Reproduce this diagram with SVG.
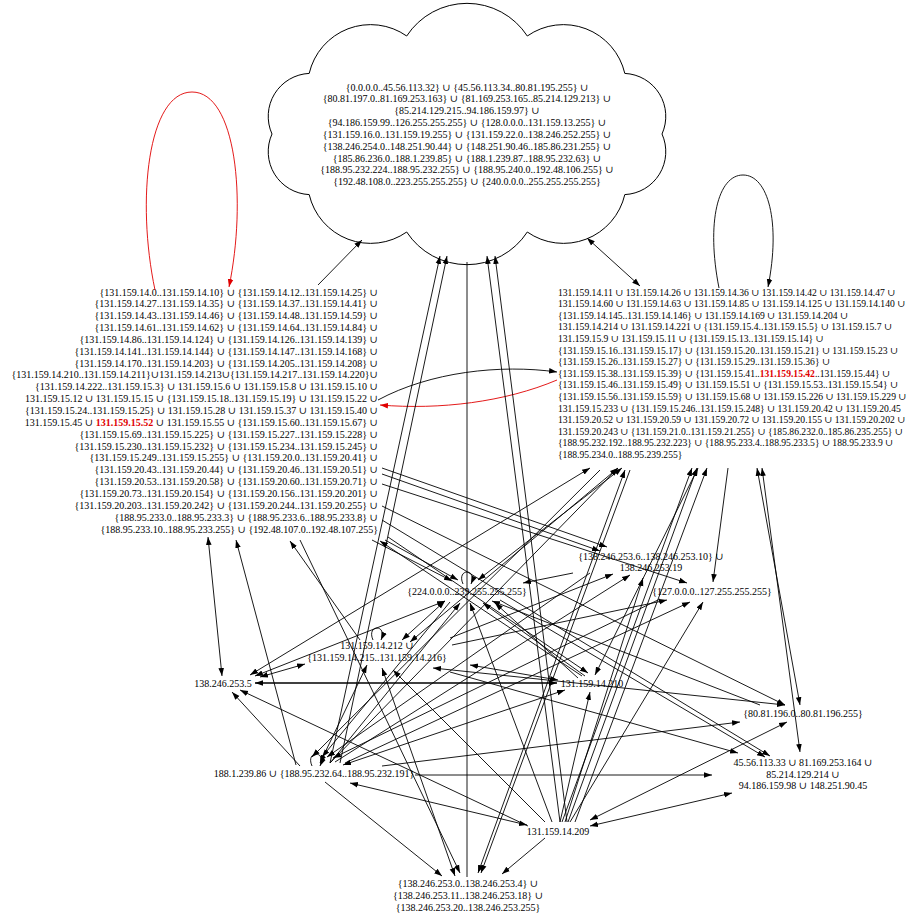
<svg xmlns="http://www.w3.org/2000/svg" width="913" height="918" viewBox="0 0 913 918">
<style>
.t{font-family:"Liberation Serif","DejaVu Serif",serif;font-size:10px;fill:#000}
.s{font-size:9.6px}
.c{text-anchor:middle}
.e{text-anchor:end}
.red{fill:#e00000;font-weight:bold}
.ed path{fill:none;stroke:#000;stroke-width:0.9}
.ed .E{marker-end:url(#a)}
.ed .B{marker-start:url(#a);marker-end:url(#a)}
.ed .R{stroke:#e00000;marker-end:url(#r)}
</style>
<defs>
<marker id="a" viewBox="0 0 10 10" refX="10" refY="5" markerWidth="8" markerHeight="8" markerUnits="userSpaceOnUse" orient="auto-start-reverse"><path d="M0,1.5 L10,5 L0,8.5 z" fill="#000"/></marker>
<marker id="r" viewBox="0 0 10 10" refX="10" refY="5" markerWidth="8" markerHeight="8" markerUnits="userSpaceOnUse" orient="auto-start-reverse"><path d="M0,1.5 L10,5 L0,8.5 z" fill="#e00000"/></marker>
</defs>
<rect width="913" height="918" fill="#fff"/>
<g id="n_cloud">
<path d="M406.7,36 A72,72 0 0 1 527.3,36 A63,63 0 0 1 624.8,73.4 A43,43 0 0 1 662,134 A43,43 0 0 1 624.8,194.6 A63,63 0 0 1 527.3,232 A72,72 0 0 1 406.7,232 A63,63 0 0 1 309.2,194.6 A43,43 0 0 1 272,134 A43,43 0 0 1 309.2,73.4 A63,63 0 0 1 406.7,36 Z" fill="#fff" stroke="#000" stroke-width="1"/>
<text class="t c" x="467" y="90.5">{0.0.0.0..45.56.113.32} ∪ {45.56.113.34..80.81.195.255} ∪</text>
<text class="t c" x="467" y="102.35">{80.81.197.0..81.169.253.163} ∪ {81.169.253.165..85.214.129.213} ∪</text>
<text class="t c" x="467" y="114.2">{85.214.129.215..94.186.159.97}  ∪</text>
<text class="t c" x="467" y="126.05">{94.186.159.99..126.255.255.255} ∪ {128.0.0.0..131.159.13.255} ∪</text>
<text class="t c" x="467" y="137.9">{131.159.16.0..131.159.19.255} ∪ {131.159.22.0..138.246.252.255} ∪</text>
<text class="t c" x="467" y="149.75">{138.246.254.0..148.251.90.44} ∪ {148.251.90.46..185.86.231.255} ∪</text>
<text class="t c" x="467" y="161.6">{185.86.236.0..188.1.239.85} ∪ {188.1.239.87..188.95.232.63} ∪</text>
<text class="t c" x="467" y="173.45">{188.95.232.224..188.95.232.255} ∪ {188.95.240.0..192.48.106.255} ∪</text>
<text class="t c" x="467" y="185.3">{192.48.108.0..223.255.255.255} ∪ {240.0.0.0..255.255.255.255}</text>
</g>
<g id="n_left">
<text class="t e" x="378" y="295.5">{131.159.14.0..131.159.14.10} ∪ {131.159.14.12..131.159.14.25} ∪</text>
<text class="t e" x="378" y="307.35">{131.159.14.27..131.159.14.35} ∪ {131.159.14.37..131.159.14.41} ∪</text>
<text class="t e" x="378" y="319.2">{131.159.14.43..131.159.14.46} ∪ {131.159.14.48..131.159.14.59} ∪</text>
<text class="t e" x="378" y="331.05">{131.159.14.61..131.159.14.62} ∪ {131.159.14.64..131.159.14.84} ∪</text>
<text class="t e" x="378" y="342.9">{131.159.14.86..131.159.14.124} ∪ {131.159.14.126..131.159.14.139} ∪</text>
<text class="t e" x="378" y="354.75">{131.159.14.141..131.159.14.144} ∪ {131.159.14.147..131.159.14.168} ∪</text>
<text class="t e" x="378" y="366.6">{131.159.14.170..131.159.14.203} ∪ {131.159.14.205..131.159.14.208} ∪</text>
<text class="t e" x="378" y="378.45">{131.159.14.210..131.159.14.211}∪131.159.14.213∪{131.159.14.217..131.159.14.220}∪</text>
<text class="t e" x="378" y="390.3">{131.159.14.222..131.159.15.3} ∪ 131.159.15.6 ∪ 131.159.15.8 ∪ 131.159.15.10 ∪</text>
<text class="t e" x="378" y="402.15">131.159.15.12 ∪ 131.159.15.15 ∪ {131.159.15.18..131.159.15.19} ∪ 131.159.15.22 ∪</text>
<text class="t e" x="378" y="414">{131.159.15.24..131.159.15.25} ∪ 131.159.15.28 ∪ 131.159.15.37 ∪ 131.159.15.40 ∪</text>
<text class="t e" x="378" y="425.85">131.159.15.45 ∪ <tspan class="red">131.159.15.52</tspan> ∪ 131.159.15.55 ∪ {131.159.15.60..131.159.15.67} ∪</text>
<text class="t e" x="378" y="437.7">{131.159.15.69..131.159.15.225} ∪ {131.159.15.227..131.159.15.228} ∪</text>
<text class="t e" x="378" y="449.55">{131.159.15.230..131.159.15.232} ∪ {131.159.15.234..131.159.15.245} ∪</text>
<text class="t e" x="378" y="461.4">{131.159.15.249..131.159.15.255} ∪ {131.159.20.0..131.159.20.41} ∪</text>
<text class="t e" x="378" y="473.25">{131.159.20.43..131.159.20.44} ∪ {131.159.20.46..131.159.20.51} ∪</text>
<text class="t e" x="378" y="485.1">{131.159.20.53..131.159.20.58} ∪ {131.159.20.60..131.159.20.71} ∪</text>
<text class="t e" x="378" y="496.95">{131.159.20.73..131.159.20.154} ∪ {131.159.20.156..131.159.20.201} ∪</text>
<text class="t e" x="378" y="508.8">{131.159.20.203..131.159.20.242} ∪ {131.159.20.244..131.159.20.255} ∪</text>
<text class="t e" x="378" y="520.65">{188.95.233.0..188.95.233.3} ∪ {188.95.233.6..188.95.233.8} ∪</text>
<text class="t e" x="378" y="532.5">{188.95.233.10..188.95.233.255} ∪ {192.48.107.0..192.48.107.255}</text>
</g>
<g id="n_right">
<text class="t s" x="558" y="295.5">131.159.14.11 ∪ 131.159.14.26 ∪ 131.159.14.36 ∪ 131.159.14.42 ∪ 131.159.14.47 ∪</text>
<text class="t s" x="558" y="307.1">131.159.14.60 ∪ 131.159.14.63 ∪ 131.159.14.85 ∪ 131.159.14.125 ∪ 131.159.14.140 ∪</text>
<text class="t s" x="558" y="318.7">{131.159.14.145..131.159.14.146} ∪ 131.159.14.169 ∪ 131.159.14.204 ∪</text>
<text class="t s" x="558" y="330.3">131.159.14.214 ∪ 131.159.14.221 ∪ {131.159.15.4..131.159.15.5} ∪ 131.159.15.7 ∪</text>
<text class="t s" x="558" y="341.9">131.159.15.9 ∪ 131.159.15.11 ∪ {131.159.15.13..131.159.15.14} ∪</text>
<text class="t s" x="558" y="353.5">{131.159.15.16..131.159.15.17} ∪ {131.159.15.20..131.159.15.21} ∪ 131.159.15.23 ∪</text>
<text class="t s" x="558" y="365.1">{131.159.15.26..131.159.15.27} ∪ {131.159.15.29..131.159.15.36} ∪</text>
<text class="t s" x="558" y="376.7">{131.159.15.38..131.159.15.39} ∪ {131.159.15.41..<tspan class="red">131.159.15.42</tspan>..131.159.15.44} ∪</text>
<text class="t s" x="558" y="388.3">{131.159.15.46..131.159.15.49} ∪ 131.159.15.51 ∪ {131.159.15.53..131.159.15.54} ∪</text>
<text class="t s" x="558" y="399.9">{131.159.15.56..131.159.15.59} ∪ 131.159.15.68 ∪ 131.159.15.226 ∪ 131.159.15.229 ∪</text>
<text class="t s" x="558" y="411.5">131.159.15.233 ∪ {131.159.15.246..131.159.15.248} ∪ 131.159.20.42 ∪ 131.159.20.45</text>
<text class="t s" x="558" y="423.1">131.159.20.52 ∪ 131.159.20.59 ∪ 131.159.20.72 ∪ 131.159.20.155 ∪ 131.159.20.202 ∪</text>
<text class="t s" x="558" y="434.7">131.159.20.243 ∪ {131.159.21.0..131.159.21.255} ∪ {185.86.232.0..185.86.235.255} ∪</text>
<text class="t s" x="558" y="446.3">{188.95.232.192..188.95.232.223} ∪ {188.95.233.4..188.95.233.5} ∪ 188.95.233.9 ∪</text>
<text class="t s" x="558" y="457.9">{188.95.234.0..188.95.239.255}</text>
</g>
<g id="n224"><text class="t c" x="467" y="594.5">{224.0.0.0..239.255.255.255}</text></g>
<g id="n138_6"><text class="t c" x="651" y="559.5">{138.246.253.6..138.246.253.10} ∪</text><text class="t c" x="651" y="571">138.246.253.19</text></g>
<g id="n127"><text class="t c" x="712" y="594.5">{127.0.0.0..127.255.255.255}</text></g>
<g id="n212"><text class="t c" x="377" y="648.5">131.159.14.212 ∪</text><text class="t c" x="377" y="660.5">{131.159.14.215..131.159.14.216}</text></g>
<g id="n5"><text class="t c" x="223" y="686.5">138.246.253.5</text></g>
<g id="n210"><text class="t c" x="592" y="686.5">131.159.14.210</text></g>
<g id="n80"><text class="t c" x="803" y="716.5">{80.81.196.0..80.81.196.255}</text></g>
<g id="n188"><text class="t c" x="314" y="777">188.1.239.86 ∪ {188.95.232.64..188.95.232.191}</text></g>
<g id="n45"><text class="t c" x="803" y="766">45.56.113.33 ∪ 81.169.253.164 ∪</text><text class="t c" x="803" y="777.5">85.214.129.214  ∪</text><text class="t c" x="803" y="789">94.186.159.98 ∪ 148.251.90.45</text></g>
<g id="n209"><text class="t c" x="558" y="834.5">131.159.14.209</text></g>
<g id="n138_0"><text class="t c" x="468" y="887">{138.246.253.0..138.246.253.4} ∪</text><text class="t c" x="468" y="899">{138.246.253.11..138.246.253.18} ∪</text><text class="t c" x="468" y="911">{138.246.253.20..138.246.253.255}</text></g>
<g id="edges" class="ed">
<path class="E" d="M318,285 L362,240"/>
<path class="B" d="M640,286 L587,238"/>
<path class="E" d="M378,400 C430,372 500,364 557,372"/>
<path class="R" d="M557,380 C505,402 440,410 380,405"/>
<path class="R" d="M155,290 C136,200 148,92 192,92 C236,92 247,200 229,287"/>
<path class="E" d="M719,288 C706,222 718,175 743,175 C768,175 781,222 768,287"/>
<path class="E" d="M463,584 C456,568 478,568 471,584"/>
<path class="E" d="M373,640 C366,624 388,624 381,640"/>
<path class="E" d="M312,766 C305,750 327,750 320,766"/>
<path class="E" d="M330,763 L440,256"/>
<path class="E" d="M340,763 L447,256"/>
<path class="E" d="M560,822 L487,256"/>
<path class="E" d="M567,822 L495,256"/>
<path d="M467,877 L467,262"/>
<path class="B" d="M208,537 L222,676"/>
<path class="E" d="M296,765 L236,540"/>
<path class="E" d="M360,640 L290,541"/>
<path class="E" d="M372,540 L452,581"/>
<path class="E" d="M385,540 L458,580"/>
<path class="E" d="M582,676 L380,541"/>
<path class="E" d="M388,537 L588,673"/>
<path class="E" d="M382,468 L607,547"/>
<path class="E" d="M382,474 L600,551"/>
<path class="E" d="M382,484 L687,583"/>
<path class="E" d="M382,506 L785,705"/>
<path class="E" d="M382,520 L770,756"/>
<path class="E" d="M573,573 L523,583"/>
<path class="B" d="M478,580 L622,468"/>
<path class="B" d="M445,601 L255,676"/>
<path class="B" d="M402,640 L445,601"/>
<path class="E" d="M330,763 L460,603"/>
<path class="E" d="M552,822 L470,603"/>
<path class="E" d="M585,676 L483,603"/>
<path class="E" d="M578,678 L495,603"/>
<path class="E" d="M760,705 L492,601"/>
<path class="B" d="M260,677 L305,664"/>
<path class="B" d="M320,763 L367,665"/>
<path class="E" d="M545,822 L393,670"/>
<path class="B" d="M455,876 L382,668"/>
<path class="E" d="M450,638 L613,574"/>
<path class="E" d="M452,645 L667,600"/>
<path class="B" d="M470,665 L558,680"/>
<path class="B" d="M433,668 L785,705"/>
<path class="B" d="M255,683 L557,683" style="stroke-width:1.4"/>
<path class="E" d="M300,766 L232,692"/>
<path class="E" d="M528,826 L240,690"/>
<path class="B" d="M250,675 L590,468"/>
<path class="E" d="M450,602 L322,757"/>
<path class="E" d="M590,573 L327,757"/>
<path class="E" d="M660,599 L333,758"/>
<path class="B" d="M343,765 L565,690"/>
<path class="E" d="M600,470 L312,757"/>
<path class="B" d="M350,783 L527,825"/>
<path class="E" d="M325,782 L442,876"/>
<path class="E" d="M415,775 L712,775"/>
<path class="E" d="M382,766 L740,722"/>
<path class="B" d="M590,826 L732,793"/>
<path class="B" d="M590,820 L787,722"/>
<path class="E" d="M545,838 L502,874"/>
<path class="E" d="M565,822 L643,578"/>
<path class="E" d="M570,822 L703,602"/>
<path class="E" d="M562,822 L692,468"/>
<path class="E" d="M568,822 L697,468"/>
<path class="E" d="M575,822 L707,468"/>
<path class="B" d="M595,675 L698,468"/>
<path class="E" d="M560,822 L590,692"/>
<path class="E" d="M300,540 L460,873"/>
<path class="B" d="M625,470 L478,873"/>
<path class="E" d="M630,470 L481,873"/>
<path class="B" d="M757,468 L800,705"/>
<path class="B" d="M762,468 L800,752"/>
<path class="E" d="M728,468 L713,582"/>
<path class="B" d="M618,468 L410,642"/>
<path class="E" d="M330,763 L618,468"/>
<path class="E" d="M345,763 L690,602"/>
<path class="E" d="M335,762 L630,575"/>
<path class="E" d="M450,672 L738,753"/>
<path class="E" d="M500,600 L765,757"/>
</g>
</svg>
